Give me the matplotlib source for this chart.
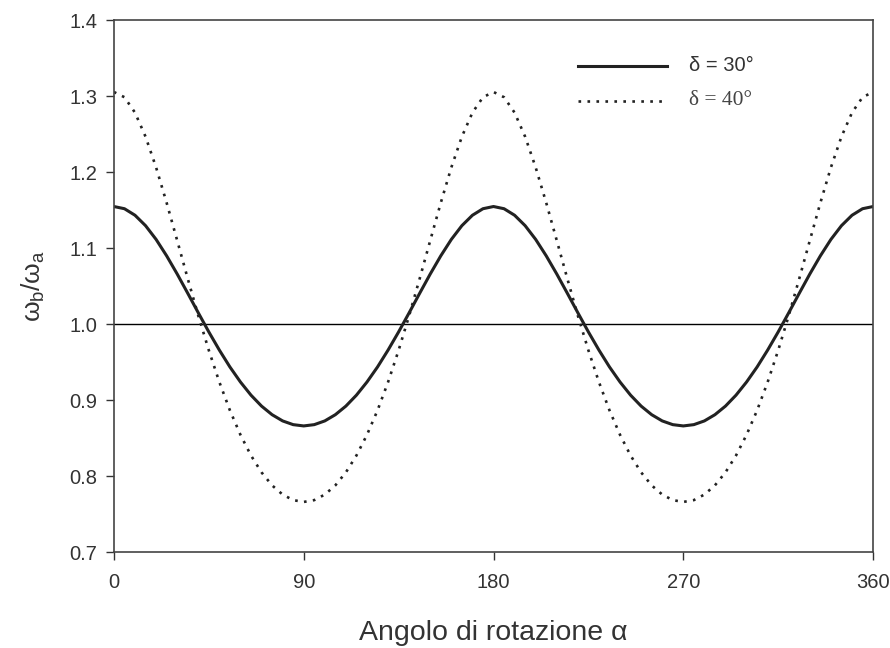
import matplotlib
matplotlib.use("Agg")
import matplotlib.pyplot as plt
from matplotlib.lines import Line2D

# ---------------------------------------------------------------------------
# Data: velocity ratio wb/wa vs rotation angle (read every 5 deg)
# ---------------------------------------------------------------------------
ALPHA = list(range(0, 365, 5))

D30 = [
    1.1547, 1.1518, 1.1432, 1.1295, 1.1114, 1.0898, 1.0659, 1.0406, 1.0149, 0.9897,
    0.9658, 0.9436, 0.9238, 0.9065, 0.8921, 0.8808, 0.8726, 0.8677, 0.8660,
    0.8677, 0.8726, 0.8808, 0.8921, 0.9065, 0.9238, 0.9436, 0.9658, 0.9897, 1.0149,
    1.0406, 1.0659, 1.0898, 1.1114, 1.1295, 1.1432, 1.1518, 1.1547,
    1.1518, 1.1432, 1.1295, 1.1114, 1.0898, 1.0659, 1.0406, 1.0149, 0.9897,
    0.9658, 0.9436, 0.9238, 0.9065, 0.8921, 0.8808, 0.8726, 0.8677, 0.8660,
    0.8677, 0.8726, 0.8808, 0.8921, 0.9065, 0.9238, 0.9436, 0.9658, 0.9897, 1.0149,
    1.0406, 1.0659, 1.0898, 1.1114, 1.1295, 1.1432, 1.1518, 1.1547,
]

D40 = [
    1.3054, 1.2985, 1.2782, 1.2466, 1.2061, 1.1596, 1.1100, 1.0599, 1.0112, 0.9655,
    0.9237, 0.8865, 0.8543, 0.8271, 0.8049, 0.7878, 0.7757, 0.7684, 0.7660,
    0.7684, 0.7757, 0.7878, 0.8049, 0.8271, 0.8543, 0.8865, 0.9237, 0.9655, 1.0112,
    1.0599, 1.1100, 1.1596, 1.2061, 1.2466, 1.2782, 1.2985, 1.3054,
    1.2985, 1.2782, 1.2466, 1.2061, 1.1596, 1.1100, 1.0599, 1.0112, 0.9655,
    0.9237, 0.8865, 0.8543, 0.8271, 0.8049, 0.7878, 0.7757, 0.7684, 0.7660,
    0.7684, 0.7757, 0.7878, 0.8049, 0.8271, 0.8543, 0.8865, 0.9237, 0.9655, 1.0112,
    1.0599, 1.1100, 1.1596, 1.2061, 1.2466, 1.2782, 1.2985, 1.3054,
]

X_TICKS = [0, 90, 180, 270, 360]
Y_TICKS = [0.7, 0.8, 0.9, 1.0, 1.1, 1.2, 1.3, 1.4]
REF_LEVEL = 1.0

plt.rcParams["font.family"] = ["Liberation Sans", "DejaVu Sans"]
plt.rcParams["mathtext.fontset"] = "custom"
plt.rcParams["mathtext.rm"] = "Liberation Sans"
plt.rcParams["mathtext.it"] = "Liberation Sans"

fig = plt.figure(figsize=(8.9, 6.48), dpi=100)
ax = fig.add_axes([0.128, 0.148, 0.853, 0.821])

dark = "#222222"
dots = (0, (1, 2.4))
ax.axhline(REF_LEVEL, color="black", linewidth=1.0)
ax.plot(ALPHA, D30, color=dark, linewidth=2.2, solid_capstyle="butt")
ax.plot(ALPHA, D40, color=dark, linewidth=1.9, linestyle=dots)

ax.set_xlim(0, 360)
ax.set_ylim(0.7, 1.4)
ax.set_xticks(X_TICKS)
ax.set_yticks(Y_TICKS)
ax.set_yticklabels([f"{v:.1f}" for v in Y_TICKS])
ax.tick_params(direction="out", length=6, width=1, colors="#333333",
               labelsize=14.5, labelcolor="#333333")
ax.tick_params(axis="x", pad=9)
ax.tick_params(axis="y", pad=6)
for s in ax.spines.values():
    s.set_color("#444444")
    s.set_linewidth(1.2)

ax.set_xlabel("Angolo di rotazione α", fontsize=20.5, color="#333333", labelpad=20)
ax.set_ylabel(r"$\omega_b/\omega_a$", fontsize=19, color="#333333", labelpad=16)

# legend drawn as a manual key in axes coordinates
ax.add_line(Line2D([0.611, 0.729], [0.914, 0.914], transform=ax.transAxes,
                   color=dark, linewidth=2.2))
ax.add_line(Line2D([0.611, 0.729], [0.848, 0.848], transform=ax.transAxes,
                   color=dark, linewidth=1.9, linestyle=dots))
ax.text(0.757, 0.914, "δ = 30°", transform=ax.transAxes, fontsize=14.5,
        va="center", ha="left", color="#333333")
ax.text(0.757, 0.848, "δ = 40°", transform=ax.transAxes, fontsize=15.5,
        va="center", ha="left", color="#444444", family=["Liberation Serif"])

fig.savefig("out.png", dpi=100)
